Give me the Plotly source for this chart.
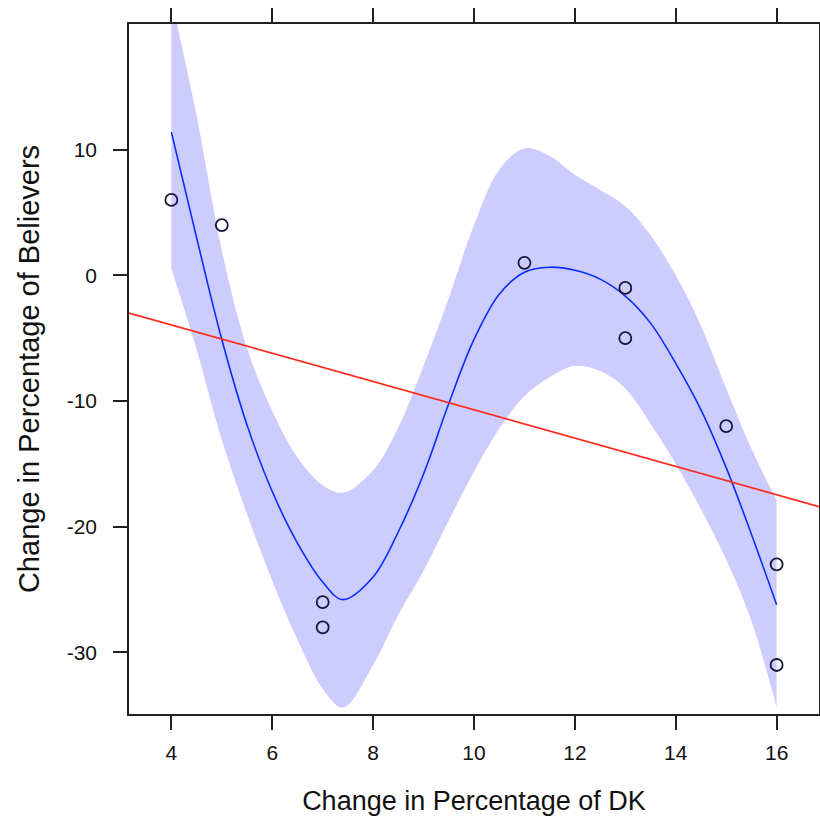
import plotly.graph_objects as go

# Observed data points
dk_change = [4, 5, 7, 7, 11, 13, 13, 15, 16, 16]
believers_change = [6, 4, -26, -28, 1, -1, -5, -12, -23, -31]

# Smooth fit
smooth_x = [4, 4.5, 5, 5.5, 6, 6.5, 7, 7.4, 8, 8.5, 9, 9.5, 10, 10.5, 11, 11.5,
            12, 12.5, 13, 13.5, 14, 14.5, 15, 15.5, 16]
smooth_y = [11.4, 3.0, -5.1, -11.9, -17.2, -21.3, -24.4, -25.8, -24.0, -20.4, -15.8,
            -10.2, -5.1, -1.5, 0.25, 0.65, 0.4, -0.3, -1.65, -3.8, -7.0, -10.7,
            -15.3, -20.6, -26.2]
band_upper = [22.0, 12.7, 2.0, -5.8, -10.8, -14.5, -16.7, -17.3, -15.5, -12.1, -7.2,
              -1.8, 4.0, 8.4, 10.1, 9.5, 8.0, 6.8, 5.5, 3.2, 0.0, -4.0, -9.0, -13.8, -17.9]
band_lower = [0.55, -5.9, -13.1, -19.0, -24.3, -29.0, -32.9, -34.4, -31.0, -27.0, -23.5,
              -19.5, -15.6, -12.2, -9.6, -8.1, -7.2, -7.6, -9.0, -11.8, -15.0, -18.6,
              -22.6, -27.5, -34.4]

# Linear fit line
linfit_x = [3.16, 16.84]
linfit_y = [-3.0, -18.4]

x_ticks = [4, 6, 8, 10, 12, 14, 16]
y_ticks = [-30, -20, -10, 0, 10]
y_tick_labels = ["-30", "-20", "-10", "0", "10"]

FONT = "Liberation Sans, Arial, Helvetica, sans-serif"

fig = go.Figure()
fig.add_trace(go.Scatter(x=smooth_x, y=band_lower, mode="lines", line=dict(width=0, shape="spline"),
                         hoverinfo="skip", showlegend=False))
fig.add_trace(go.Scatter(x=smooth_x, y=band_upper, mode="lines", line=dict(width=0, shape="spline"),
                         fill="tonexty", fillcolor="#CCCCFF", hoverinfo="skip", showlegend=False))
fig.add_trace(go.Scatter(x=smooth_x, y=smooth_y, mode="lines",
                         line=dict(color="#0a2cff", width=1.6, shape="spline"), showlegend=False))
fig.add_trace(go.Scatter(x=linfit_x, y=linfit_y, mode="lines",
                         line=dict(color="#ff2a1a", width=1.6), showlegend=False))
fig.add_trace(go.Scatter(x=dk_change, y=believers_change, mode="markers",
                         marker=dict(symbol="circle-open", size=12, color="#15153a",
                                     line=dict(width=1.8, color="#15153a")),
                         showlegend=False))

axis_common = dict(showgrid=False, zeroline=False, showline=True, linecolor="#222222",
                   linewidth=1.5, ticks="outside", ticklen=14, tickwidth=1.5,
                   tickcolor="#222222", mirror="ticks", automargin=False,
                   tickfont=dict(family=FONT, size=21, color="#111111"))

fig.update_layout(
    width=820, height=816,
    margin=dict(l=129, r=1, t=24, b=102, autoexpand=False),
    paper_bgcolor="white", plot_bgcolor="white",
    font=dict(family=FONT, color="#111111"),
    xaxis=dict(range=[3.16, 16.84], tickvals=x_ticks,
               title=dict(text="Change in Percentage of DK", font=dict(size=27), standoff=28),
               ticklabelstandoff=5, **axis_common),
    yaxis=dict(range=[-34.9, 20.0], tickvals=y_ticks, ticktext=y_tick_labels,
               title=dict(text="Change in Percentage of Believers", font=dict(size=29), standoff=19),
               ticklabelstandoff=12, **axis_common),
)

fig.write_html("out.html", config={"displayModeBar": False},
               post_script="document.body.style.margin='0px';document.body.style.overflow='hidden';")
